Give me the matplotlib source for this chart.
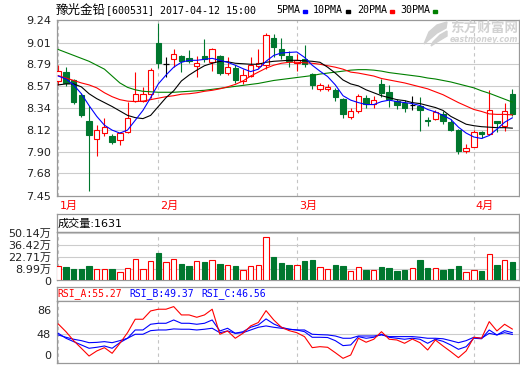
import matplotlib
matplotlib.use('Agg')
import matplotlib.pyplot as plt
import numpy as np
from matplotlib.patches import Rectangle, Polygon
from matplotlib.transforms import ScaledTranslation

# ---- data (60 trading days, 2017-01-10 .. 2017-04-12) ----
opens = [8.615, 8.71, 8.63, 8.48, 8.21, 8.03, 8.09, 8.065, 8.02, 8.10,
         8.42, 8.42, 8.49, 9.01, 8.79, 8.845, 8.87, 8.855, 8.77, 8.875,
         8.81, 8.875, 8.705, 8.75, 8.615, 8.675, 8.77, 8.78, 9.06, 8.95,
         8.875, 8.80, 8.84, 8.69, 8.54, 8.535, 8.53, 8.435, 8.255, 8.315,
         8.445, 8.39, 8.59, 8.51, 8.415, 8.40, 8.375, 8.365, 8.222, 8.237,
         8.285, 8.205, 8.12, 7.905, 7.95, 8.10, 8.085, 8.21, 8.16, 8.485]
highs = [8.785, 8.76, 8.64, 8.50, 8.37, 8.17, 8.24, 8.08, 8.10, 8.41,
         8.71, 8.56, 8.75, 9.21, 8.86, 8.95, 8.88, 8.93, 8.87, 9.05,
         8.96, 8.88, 8.86, 8.78, 8.74, 8.86, 8.94, 9.11, 9.10, 9.06,
         8.92, 8.89, 8.99, 8.70, 8.60, 8.59, 8.55, 8.45, 8.345, 8.49,
         8.48, 8.47, 8.64, 8.58, 8.44, 8.43, 8.47, 8.455, 8.255, 8.32,
         8.31, 8.23, 8.13, 7.975, 8.12, 8.11, 8.53, 8.215, 8.40, 8.54]
lows = [8.58, 8.57, 8.39, 8.25, 7.50, 7.86, 8.06, 7.98, 7.97, 8.09,
        8.41, 8.41, 8.45, 8.75, 8.66, 8.76, 8.715, 8.80, 8.665, 8.81,
        8.725, 8.685, 8.685, 8.60, 8.59, 8.66, 8.75, 8.74, 8.86, 8.84,
        8.76, 8.72, 8.76, 8.535, 8.52, 8.52, 8.415, 8.245, 8.23, 8.29,
        8.35, 8.34, 8.46, 8.36, 8.33, 8.30, 8.325, 8.11, 8.165, 8.22,
        8.18, 8.115, 7.88, 7.89, 7.945, 8.04, 8.08, 8.105, 8.115, 8.26]
closes = [8.725, 8.60, 8.41, 8.275, 8.07, 8.12, 8.15, 8.00, 8.09, 8.24,
          8.49, 8.49, 8.73, 8.80, 8.79, 8.895, 8.82, 8.825, 8.80, 8.84,
          8.95, 8.70, 8.76, 8.63, 8.685, 8.785, 8.80, 9.09, 8.965, 8.88,
          8.82, 8.83, 8.795, 8.575, 8.575, 8.56, 8.455, 8.285, 8.31, 8.465,
          8.385, 8.425, 8.495, 8.44, 8.375, 8.345, 8.375, 8.325, 8.215, 8.30,
          8.21, 8.125, 7.905, 7.94, 8.10, 8.085, 8.325, 8.195, 8.315, 8.28]

ma5 = [8.67, 8.64, 8.58, 8.49, 8.37, 8.26, 8.17, 8.12, 8.09, 8.12,
       8.22, 8.32, 8.45, 8.59, 8.68, 8.76, 8.81, 8.83, 8.83, 8.84,
       8.85, 8.83, 8.81, 8.78, 8.745, 8.715, 8.74, 8.82, 8.88, 8.905,
       8.91, 8.915, 8.86, 8.78, 8.72, 8.665, 8.58, 8.47, 8.425, 8.40,
       8.38, 8.38, 8.41, 8.425, 8.41, 8.40, 8.39, 8.37, 8.33, 8.305,
       8.27, 8.23, 8.15, 8.09, 8.05, 8.035, 8.065, 8.13, 8.20, 8.245]
ma10 = [8.58, 8.59, 8.59, 8.56, 8.49, 8.44, 8.40, 8.36, 8.315, 8.27,
        8.247, 8.237, 8.27, 8.36, 8.45, 8.52, 8.62, 8.68, 8.73, 8.775,
        8.80, 8.82, 8.815, 8.80, 8.795, 8.79, 8.79, 8.81, 8.82, 8.825,
        8.83, 8.83, 8.825, 8.82, 8.81, 8.76, 8.70, 8.63, 8.59, 8.57,
        8.53, 8.50, 8.47, 8.45, 8.43, 8.42, 8.40, 8.39, 8.37, 8.35,
        8.32, 8.26, 8.22, 8.18, 8.165, 8.155, 8.15, 8.145, 8.145, 8.14]
ma20 = [8.674, 8.65, 8.625, 8.60, 8.58, 8.55, 8.50, 8.46, 8.43, 8.415,
        8.41, 8.415, 8.43, 8.445, 8.46, 8.47, 8.485, 8.49, 8.50, 8.515,
        8.525, 8.54, 8.56, 8.585, 8.62, 8.67, 8.71, 8.75, 8.78, 8.80,
        8.81, 8.81, 8.805, 8.80, 8.79, 8.775, 8.76, 8.74, 8.71, 8.70,
        8.685, 8.67, 8.645, 8.63, 8.615, 8.60, 8.58, 8.56, 8.54, 8.51,
        8.48, 8.44, 8.40, 8.365, 8.33, 8.31, 8.285, 8.28, 8.28, 8.275]
ma30 = [8.94, 8.91, 8.88, 8.85, 8.82, 8.78, 8.74, 8.67, 8.60, 8.555,
        8.53, 8.515, 8.51, 8.505, 8.505, 8.505, 8.51, 8.515, 8.52, 8.525,
        8.535, 8.545, 8.555, 8.565, 8.575, 8.585, 8.595, 8.61, 8.625, 8.635,
        8.645, 8.655, 8.665, 8.675, 8.69, 8.70, 8.71, 8.72, 8.73, 8.735,
        8.735, 8.73, 8.72, 8.705, 8.695, 8.685, 8.675, 8.665, 8.65, 8.64,
        8.625, 8.61, 8.59, 8.57, 8.55, 8.52, 8.495, 8.465, 8.435, 8.405]

# volume in 万
vols = [12.1, 11.3, 9.0, 9.0, 12.4, 8.6, 8.6, 8.6, 5.2, 9.8,
        20.1, 8.6, 17.8, 27.4, 17.0, 20.5, 14.7, 12.4, 17.8, 17.4,
        19.0, 14.7, 13.2, 12.1, 7.5, 12.1, 13.2, 45.7, 22.8, 15.9,
        13.6, 13.2, 18.2, 19.3, 10.9, 9.0, 13.6, 12.4, 6.3, 10.9,
        8.2, 7.8, 11.3, 10.1, 7.0, 8.2, 10.1, 19.3, 10.1, 10.1,
        8.2, 9.0, 12.4, 5.5, 7.5, 6.7, 25.9, 13.9, 19.0, 17.4]

rsi_a = [63.6, 51, 36.4, 24, 11.4, 19.6, 25, 15.8, 32, 49.4,
         71.3, 71.3, 84.8, 87.6, 87.6, 91.9, 78.3, 78.3, 74.5, 78.3,
         87.6, 46.8, 52.2, 40.3, 48.4, 60.4, 66, 85.3, 70.1, 58.2,
         52.7, 49.4, 42.9, 25, 26.6, 25.6, 16.8, 7.6, 13, 40.3,
         33.8, 38.7, 51, 38.7, 37.5, 32.1, 39, 33.1, 21.2, 37.5,
         27.7, 18.5, 8.7, 19.6, 41.9, 40.3, 67.4, 52.2, 63.1, 55.27]
rsi_b = [48.4, 40.3, 34.8, 29.4, 24, 25.6, 27.7, 24, 33.1, 40.3,
         53.8, 53.8, 63.1, 64.7, 64.7, 70.1, 64.7, 64.7, 63.1, 64.7,
         70.1, 52.2, 56.6, 48.4, 51, 58.2, 62, 71.8, 63.6, 58.2,
         55, 53.8, 51, 41.9, 41.9, 41.5, 36.4, 28.3, 29.4, 42.9,
         40.3, 41.9, 46.8, 41.9, 40.3, 38.7, 40.3, 38.7, 32.1, 38.7,
         35.3, 29.4, 22.3, 26.6, 40.3, 39.5, 53.8, 45.7, 52.7, 49.37]
rsi_c = [45.7, 41.9, 38.7, 36.4, 33.1, 33.6, 34.8, 33.1, 36.4, 40.3,
         46.8, 46.8, 52.7, 53.8, 53.8, 55.5, 55, 55, 53.8, 55,
         56.6, 49.4, 52.2, 48.4, 49.4, 53.8, 58.2, 60.4, 58.2, 56.6,
         55, 53.8, 53.8, 46.8, 46.2, 45.7, 44, 40.3, 40.3, 44,
         44, 44, 45.7, 43, 43, 43, 43, 41.9, 40.3, 40.3,
         39.5, 36.4, 33.1, 36.4, 41.9, 40.3, 48.4, 45.7, 49.4, 46.56]

price_ticks = [7.45, 7.68, 7.90, 8.12, 8.34, 8.57, 8.79, 9.01, 9.24]
vol_ticks = [0, 8.99, 22.71, 36.42, 50.14]
vol_labels = ['0', '8.99万', '22.71万', '36.42万', '50.14万']
rsi_ticks = [0, 48, 86]
months = ['1月', '2月', '3月', '4月']
month_idx = [0, 13, 31, 54]

RED = '#ff0000'
GREEN = '#00772e'
BLUE = '#0000ff'
FRAME = '#999999'
GRID = '#cccccc'
CJK = ['DejaVu Sans', 'Noto Sans CJK SC']
MONO = ['DejaVu Sans Mono', 'Noto Sans CJK SC']

W, H = 520, 365
fig = plt.figure(figsize=(W / 100, H / 100), dpi=100)
fig.patch.set_facecolor('white')


def box(l, t, r, b):
    return [l / W, 1 - b / H, (r - l) / W, (b - t) / H]


L, R = 56.5, 519
ax = fig.add_axes(box(L, 20, R, 196))
axvh = fig.add_axes(box(L, 214, R, 232))
axv = fig.add_axes(box(L, 232, R, 280))
axrh = fig.add_axes(box(L, 286.5, R, 301))
axr = fig.add_axes(box(L, 301, R, 363))

x = np.arange(len(closes))
o = np.array(opens)
c = np.array(closes)
up = c > o
dn = c < o
flat = c == o
wick_cols = np.where(up, RED, np.where(dn, GREEN, 'black'))

for a in (ax, axvh, axv, axrh, axr):
    a.set_xlim(-0.23, 59.87)
    for s in a.spines.values():
        s.set_color(FRAME)
        s.set_linewidth(0.9)
    a.set_xticks([])
    a.tick_params(length=0, pad=4, labelsize=8, labelcolor='#222222')

for a in (axvh, axrh):
    a.set_yticks([])

for a in (ax, axv, axr):
    for m in month_idx:
        a.axvline(m, color='#c4c4c4', lw=0.8, ls=(0, (3, 3)), zorder=1)

# ---- watermark (behind the candles) ----
WM = '#d2d2d2'
ax.text(484, 28, '东方财富网', transform=None, fontsize=9.8, family=['Noto Sans CJK SC'],
        weight='bold', ha='center', va='center', color=WM, zorder=0)
fig.text(484 / W, 1 - 40 / H, 'eastmoney.com', fontsize=5.6, style='italic',
         weight='bold', ha='center', va='center', color=WM, zorder=0)
swoosh = [(447, 22), (437, 25), (429, 32), (424, 44), (430, 39), (437, 33), (446, 28)]
fig.patches.append(Polygon([(px / W, 1 - py / H) for px, py in swoosh],
                           closed=True, transform=fig.transFigure, color=WM, zorder=0))
swoosh2 = [(447, 31), (440, 35), (433, 42), (431, 46), (437, 42), (447, 36)]
fig.patches.append(Polygon([(px / W, 1 - py / H) for px, py in swoosh2],
                           closed=True, transform=fig.transFigure, color=WM, zorder=0))
ax.texts[-1].remove()
fig.text(484 / W, 1 - 28 / H, '东方财富网', fontsize=9.8, family=['Noto Sans CJK SC'],
         weight='bold', ha='center', va='center', color=WM, zorder=0)

# ---- price panel ----
ax.set_ylim(7.45, 9.24)
ax.set_yticks(price_ticks)
ax.set_yticklabels(['%.2f' % t for t in price_ticks])
for t in price_ticks[1:-1]:
    ax.axhline(t, color=GRID, lw=0.8, zorder=1)

ax.vlines(x, lows, highs, colors=wick_cols, lw=0.8, zorder=2)
body_lo = np.minimum(o, c)
body_h = np.abs(c - o)
ax.bar(x[up], body_h[up], bottom=body_lo[up], width=0.7,
       facecolor='white', edgecolor=RED, lw=0.8, zorder=3)
ax.bar(x[dn], body_h[dn], bottom=body_lo[dn], width=0.7,
       facecolor=GREEN, edgecolor=GREEN, lw=0.8, zorder=3)
ax.hlines(c[flat], x[flat] - 0.35, x[flat] + 0.35, colors='black', lw=0.9, zorder=3)

ax.plot(x, ma30, color='#008000', lw=0.8, zorder=4)
ax.plot(x, ma20, color=RED, lw=0.8, zorder=4)
ax.plot(x, ma10, color='black', lw=0.8, zorder=4)
ax.plot(x, ma5, color=BLUE, lw=0.8, zorder=4)

for m, lab in zip(month_idx, months):
    ax.text(m + 0.25, -0.058, lab, transform=ax.get_xaxis_transform(),
            color=RED, fontsize=8, family=CJK, ha='left', va='center')

# ---- volume panel ----
VOL_BASE = -3.64
axv.set_ylim(VOL_BASE, 51.47)
axv.set_yticks(vol_ticks)
axv.set_yticklabels(vol_labels, family=CJK)
for t in vol_ticks[1:]:
    axv.axhline(t, color=GRID, lw=0.8, zorder=1)
v = np.array(vols)
vup = c >= o
axv.bar(x[vup], v[vup] - VOL_BASE, bottom=VOL_BASE, width=0.7,
        facecolor='white', edgecolor=RED, lw=0.8, zorder=3)
axv.bar(x[~vup], v[~vup] - VOL_BASE, bottom=VOL_BASE, width=0.7,
        facecolor=GREEN, edgecolor=GREEN, lw=0.8, zorder=3)
for lbl in axv.get_yticklabels():
    if lbl.get_text() == '0':
        lbl.set_transform(lbl.get_transform() + ScaledTranslation(0, -3 / 72, fig.dpi_scale_trans))

axvh.text(0.003, 0.45, '成交量:1631', transform=axvh.transAxes, fontsize=8,
          family=CJK, va='center', ha='left', color='black')

# ---- RSI panel ----
axr.set_ylim(0, 101)
axr.set_yticks(rsi_ticks)
axr.set_yticklabels([str(t) for t in rsi_ticks])
axr.axhline(48, color=GRID, lw=0.8, zorder=1)
for lbl in axr.get_yticklabels():
    if lbl.get_text() == '0':
        lbl.set_transform(lbl.get_transform() + ScaledTranslation(0, 6 / 72, fig.dpi_scale_trans))
axr.plot(x, rsi_c, color=BLUE, lw=0.8, zorder=3)
axr.plot(x, rsi_b, color=BLUE, lw=0.8, zorder=3)
axr.plot(x, rsi_a, color=RED, lw=0.8, zorder=4)

for px, txt, col in [(57.5, 'RSI_A:55.27', RED), (129, 'RSI_B:49.37', BLUE),
                     (201, 'RSI_C:46.56', BLUE)]:
    fig.text(px / W, 1 - 293.5 / H, txt, color=col, fontsize=7, family=MONO,
             ha='left', va='center')

# ---- title and legend ----
fig.text(56 / W, 1 - 10 / H, '豫光金铅', fontsize=9, family=['Noto Sans CJK SC'],
         ha='left', va='center', color='black')
fig.text(106 / W, 1 - 10 / H, '[600531] 2017-04-12 15:00', fontsize=7.2,
         family=MONO, ha='left', va='center', color='black')
for px, txt, col in [(276, '5PMA', BLUE), (313, '10PMA', 'black'),
                     (357, '20PMA', RED), (400, '30PMA', '#008000')]:
    fig.text(px / W, 1 - 10 / H, txt, fontsize=7.2, family=MONO,
             ha='left', va='center', color='black')
    mx = px + len(txt) * 6 + 2.5
    fig.patches.append(Rectangle((mx / W, 1 - 12.7 / H), 4.5 / W, 2.7 / H,
                                 transform=fig.transFigure, color=col))

fig.savefig('out.png', dpi=100)
